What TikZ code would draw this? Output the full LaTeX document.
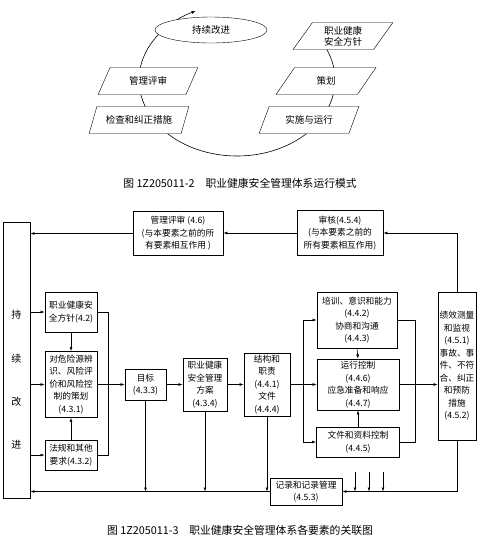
\documentclass[tikz,border=0pt]{standalone}
\usepackage{fontspec}
\newfontfamily\cjk{Noto Sans CJK SC}
\usetikzlibrary{arrows.meta,shapes.geometric}

\begin{document}
\begin{tikzpicture}[x=1pt, y=-1pt,
  box/.style={draw, line width=0.9pt, align=center, inner sep=1pt,
    font=\cjk\fontsize{8.7}{12.5}\selectfont},
  para/.style={draw, fill=white, trapezium, trapezium left angle=60,
    trapezium right angle=120, trapezium stretches=true,
    minimum width=100pt, minimum height=27pt, align=center, inner sep=1pt,
    font=\cjk\fontsize{9.5}{11}\selectfont},
  arrow/.style={-{Latex[length=4pt, width=3pt]}, line width=0.6pt},
  link/.style={line width=0.6pt},
  figcaption/.style={font=\cjk\fontsize{10.8}{13}\selectfont}
]
\useasboundingbox (0,0) rectangle (495,542);

% operating cycle
\draw[arrow] (317.3,36.4) arc[start angle=-35, end angle=245, x radius=98, y radius=76];
\node[draw, fill=white, ellipse, minimum width=112pt, minimum height=26pt,
  font=\cjk\fontsize{9.5}{11}\selectfont] (improve) at (211,30) {持续改进};
\node[para] (cpolicy) at (343,36) {职业健康\\安全方针};
\node[para] (cplan) at (326,81) {策划};
\node[para] (cdo) at (309,120) {实施与运行};
\node[para] (creview) at (148,81) {管理评审};
\node[para] (ccheck) at (139,120) {检查和纠正措施};
\node[figcaption] (capone) at (240,183) {图 1Z205011-2\quad 职业健康安全管理体系运行模式};

% element relations
\node[box, minimum width=27pt, minimum height=276pt] (cont) at (16.5,360) {};
\node[font=\cjk\fontsize{10}{43.3}\selectfont, align=center] (contlbl) at (16.5,380) {持\\续\\改\\进};
\node[box, minimum width=90pt, minimum height=44pt] (review) at (178,233.5)
  {管理评审 (4.6)\\(与本要素之前的所\\有要素相互作用 )};
\node[box, minimum width=86pt, minimum height=45pt] (audit) at (340,233)
  {审核(4.5.4)\\(与本要素之前的\\所有要素相互作用)};
\node[box, minimum width=38pt, minimum height=148pt] (perf) at (457,366)
  {绩效测量\\和监视\\(4.5.1)\\事故、事\\件、不符\\合、纠正\\和预防\\措施\\(4.5.2)};
\node[box, minimum width=52pt, minimum height=40pt] (policy) at (71,312) {职业健康安\\全方针(4.2)};
\node[box, minimum width=52pt, minimum height=66pt] (hazard) at (71,384.5)
  {对危险源辨\\识、风险评\\价和风险控\\制的策划\\(4.3.1)};
\node[box, minimum width=52pt, minimum height=30pt] (legal) at (71,455) {法规和其他\\要求(4.3.2)};
\node[box, minimum width=41pt, minimum height=31pt] (obj) at (145.5,384.5) {目标\\(4.3.3)};
\node[box, minimum width=44pt, minimum height=53pt] (prog) at (205,384.5) {职业健康\\安全管理\\方案\\(4.3.4)};
\node[box, minimum width=46pt, minimum height=63pt] (struct) at (267,384.5) {结构和\\职责\\(4.4.1)\\文件\\(4.4.4)};
\node[box, minimum width=80pt, minimum height=56pt] (train) at (357,320) {培训、意识和能力\\(4.4.2)\\协商和沟通\\(4.4.3)};
\node[box, minimum width=82pt, minimum height=51pt] (opctl) at (358,384.5) {运行控制\\(4.4.6)\\应急准备和响应\\(4.4.7)};
\node[box, minimum width=83pt, minimum height=30pt] (docs) at (358,442) {文件和资料控制\\(4.4.5)};
\node[box, minimum width=72pt, minimum height=27pt] (records) at (306,491.5) {记录和记录管理\\(4.5.3)};

\draw[arrow] (review.west) -- (review.west -| cont.east);
\draw[arrow] (audit.west) -- (audit.west -| review.east);
\draw[arrow] (perf.north) |- (audit.east);
\foreach \n in {policy,hazard,legal}
  \draw[arrow] (\n.west -| cont.east) -- (\n.west);
\draw[arrow] (policy.south) -- (hazard.north);
\draw[arrow] (legal.north) -- (hazard.south);
\draw[link] (policy.east) -- ++(11,0) |- (legal.east);
\draw[arrow] (hazard.east) -- (obj.west);
\draw[arrow] (obj.east) -- (prog.west);
\draw[arrow] (prog.east) -- (struct.west);
\coordinate (split) at (303,384.5);
\draw[link] (struct.east) -- (split);
\draw[arrow] (split) |- (train.west);
\draw[arrow] (split) -- (opctl.west);
\draw[arrow] (split) |- (docs.west);
\draw[arrow] (train.south) -- (opctl.north);
\draw[arrow] (docs.north) -- (opctl.south);
\draw[link] (train.east) -- ++(18,0) |- (docs.east);
\draw[arrow] (opctl.east) -- (opctl.east -| perf.west);
\draw[arrow] (perf.south) |- (records.east);
\foreach \x in {355,369,383} {
  \coordinate (feed\x) at (\x,472);
  \draw[arrow] (feed\x) -- (feed\x |- records.east);
}
\draw[arrow] (records.west) -- (records.west -| cont.east);
\foreach \n in {obj,prog,struct}
  \draw[arrow] (\n.south) -- (\n.south |- records.west);
\node[figcaption] (captwo) at (240,530) {图 1Z205011-3\quad 职业健康安全管理体系各要素的关联图};
\end{tikzpicture}
\end{document}
